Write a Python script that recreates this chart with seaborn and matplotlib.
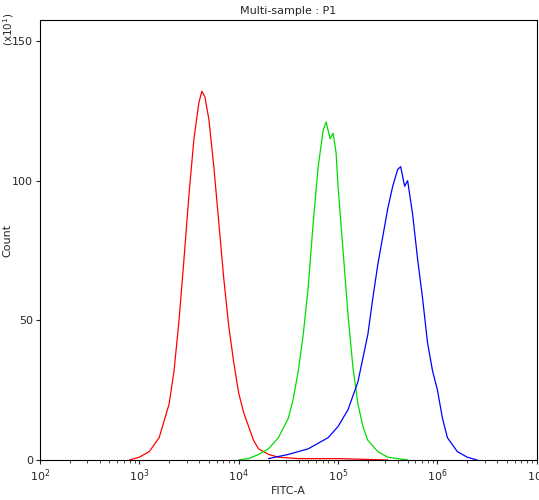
import matplotlib
matplotlib.use("Agg")
import matplotlib.pyplot as plt
import seaborn as sns
import pandas as pd
import numpy as np

red_logx = [2.9,3.0,3.1,3.2,3.3,3.35,3.4,3.45,3.5,3.55,3.6,3.63,3.66,3.7,3.75,3.8,3.85,3.9,3.95,4.0,4.05,4.1,4.15,4.2,4.3,4.4,4.6,5.0,5.5]
red_y    = [0,1,3,8,20,32,50,72,95,115,128,132,130,122,105,85,65,48,35,24,17,12,7,4,2,1,0.5,0.5,0]
green_logx = [4.0,4.1,4.2,4.3,4.4,4.5,4.55,4.6,4.65,4.7,4.75,4.8,4.85,4.88,4.92,4.95,4.98,5.0,5.05,5.1,5.15,5.2,5.25,5.3,5.4,5.5,5.7]
green_y    = [0,0.5,2,4,8,15,22,32,45,62,85,105,118,121,115,117,110,98,75,52,33,20,12,7,3,1,0]
blue_logx = [4.3,4.5,4.7,4.8,4.9,5.0,5.1,5.2,5.3,5.35,5.4,5.45,5.5,5.55,5.6,5.63,5.67,5.7,5.75,5.8,5.85,5.9,5.95,6.0,6.05,6.1,6.2,6.3,6.4]
blue_y    = [0.5,2,4,6,8,12,18,28,45,58,70,80,90,98,104,105,98,100,88,72,58,42,32,25,15,8,3,1,0]

sns.set_style("white")
plt.rcParams['font.family'] = ['DejaVu Sans']
fig = plt.figure(figsize=(5.39, 5.0), dpi=100)
ax = fig.add_axes([0.074, 0.08, 0.922, 0.88])
for lx, y, c in [(red_logx, red_y, 'red'), (green_logx, green_y, '#00dd00'), (blue_logx, blue_y, 'blue')]:
    df = pd.DataFrame({'x': np.power(10.0, lx), 'y': y})
    sns.lineplot(data=df, x='x', y='y', color=c, lw=0.9, ax=ax, estimator=None, sort=False)
ax.set_xscale('log')
ax.set_xlim(1e2, 1e7)
ax.set_ylim(0, 157.5)
ax.set_yticks([0, 50, 100, 150])
ax.set_xlabel('FITC-A', fontsize=8, labelpad=2)
ax.set_ylabel('Count', fontsize=8)
ax.yaxis.set_label_coords(-0.055, 0.5)
ax.set_title('Multi-sample : P1', fontsize=8, pad=4)
ax.tick_params(axis='both', which='major', labelsize=8, direction='out', length=3, pad=2, bottom=True, left=True)
ax.tick_params(axis='x', which='minor', direction='out', length=2, bottom=True)
for s in ax.spines.values():
    s.set_color('black'); s.set_linewidth(0.8)
fig.text(0.002, 0.975, '(x10$^1$)', rotation=90, fontsize=7.5, va='top')
fig.savefig('out.png', dpi=100)
